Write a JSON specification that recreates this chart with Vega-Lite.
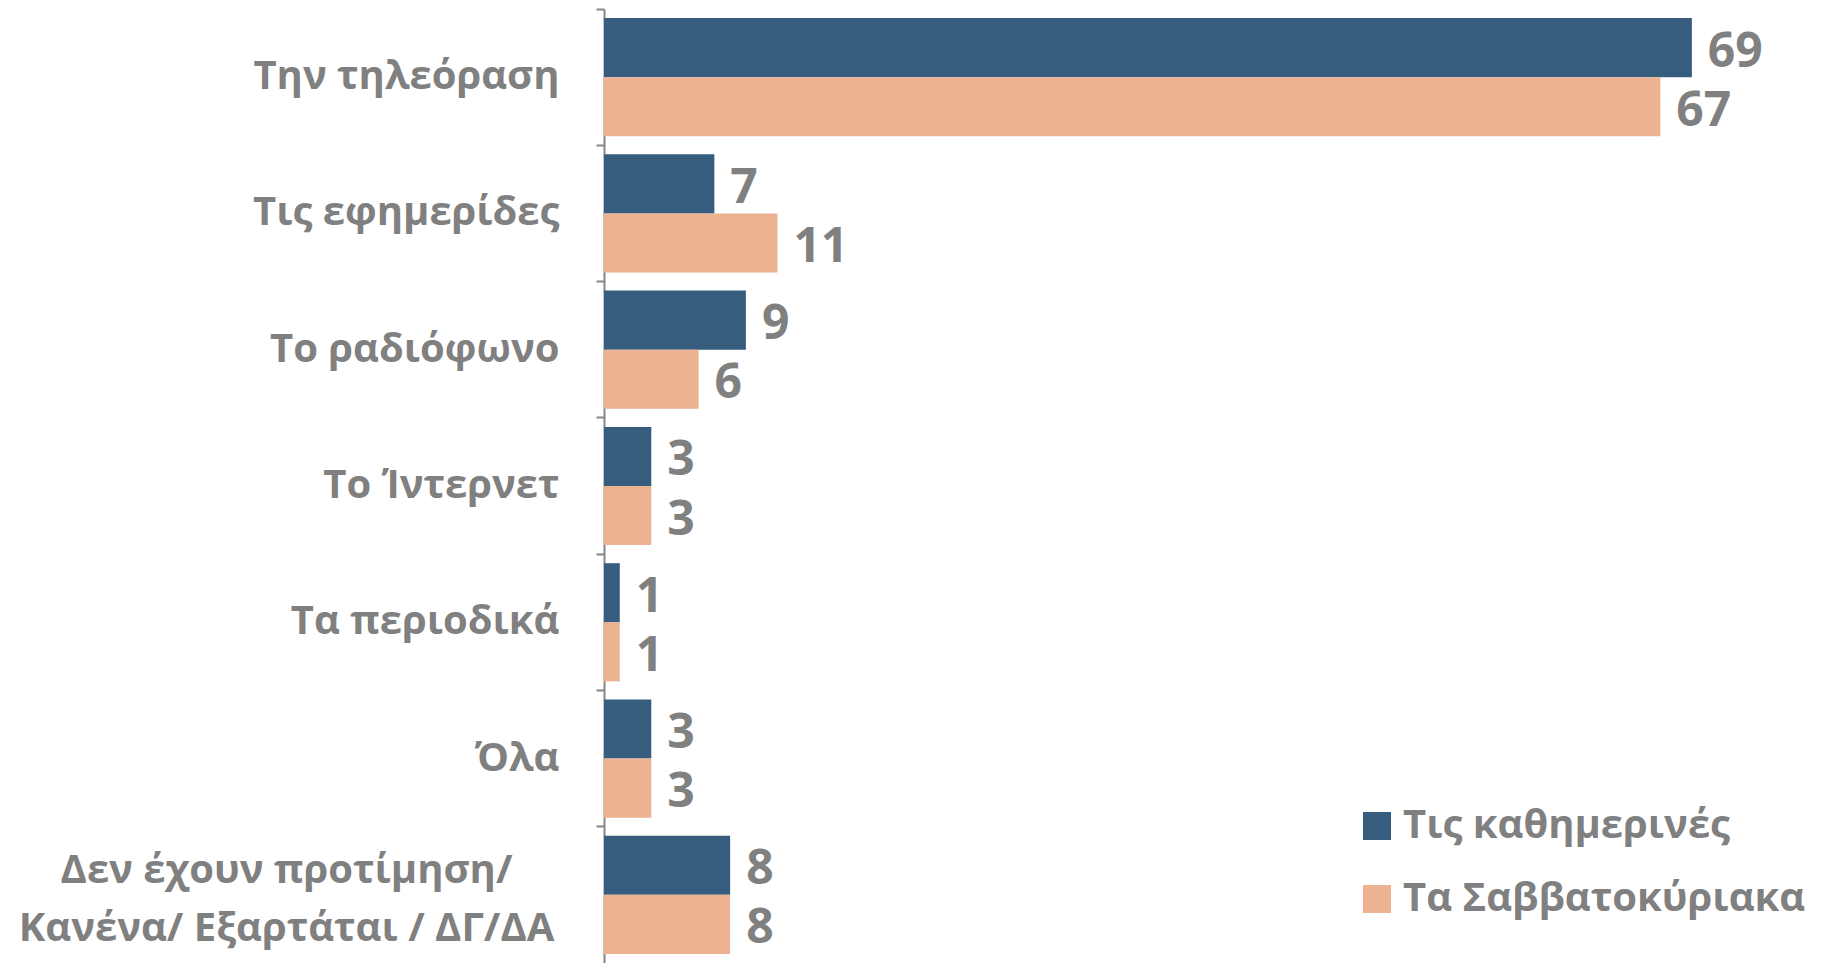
{
  "$schema": "https://vega.github.io/schema/vega-lite/v6.json",
  "width": 1214,
  "height": 954,
  "autosize": {"type": "none"},
  "padding": {"left": 604, "top": 9, "right": 7, "bottom": 0},
  "background": "white",
  "config": {"view": {"stroke": null}, "font": "Open Sans"},
  "data": {
    "values": [
      {"category": "Την τηλεόραση", "series": "Τις καθημερινές", "value": 69},
      {"category": "Την τηλεόραση", "series": "Τα Σαββατοκύριακα", "value": 67},
      {"category": "Τις εφημερίδες", "series": "Τις καθημερινές", "value": 7},
      {"category": "Τις εφημερίδες", "series": "Τα Σαββατοκύριακα", "value": 11},
      {"category": "Το ραδιόφωνο", "series": "Τις καθημερινές", "value": 9},
      {"category": "Το ραδιόφωνο", "series": "Τα Σαββατοκύριακα", "value": 6},
      {"category": "Το Ίντερνετ", "series": "Τις καθημερινές", "value": 3},
      {"category": "Το Ίντερνετ", "series": "Τα Σαββατοκύριακα", "value": 3},
      {"category": "Τα περιοδικά", "series": "Τις καθημερινές", "value": 1},
      {"category": "Τα περιοδικά", "series": "Τα Σαββατοκύριακα", "value": 1},
      {"category": "Όλα", "series": "Τις καθημερινές", "value": 3},
      {"category": "Όλα", "series": "Τα Σαββατοκύριακα", "value": 3},
      {"category": "Δεν έχουν προτίμηση/ Κανένα/ Εξαρτάται / ΔΓ/ΔΑ", "series": "Τις καθημερινές", "value": 8},
      {"category": "Δεν έχουν προτίμηση/ Κανένα/ Εξαρτάται / ΔΓ/ΔΑ", "series": "Τα Σαββατοκύριακα", "value": 8}
    ]
  },
  "encoding": {
    "y": {
      "field": "category",
      "type": "nominal",
      "sort": null,
      "scale": {"paddingInner": 0, "paddingOuter": 0},
      "axis": {
        "title": null,
        "bandPosition": 0,
        "domainColor": "#868686",
        "domainWidth": 2,
        "tickColor": "#868686",
        "tickWidth": 2,
        "tickSize": 8,
        "labelFont": "Open Sans",
        "labelFontSize": 40,
        "labelFontWeight": "bold",
        "labelColor": "#808080",
        "labelLimit": 800,
        "labelLineHeight": 58,
        "labelPadding": {"condition": {"test": "indexof(datum.value, 'Δεν') == 0", "value": 310}, "value": 37},
        "labelAlign": {"condition": {"test": "indexof(datum.value, 'Δεν') == 0", "value": "center"}, "value": "right"},
        "labelOffset": {"condition": {"test": "indexof(datum.value, 'Δεν') == 0", "value": -24}, "value": 0},
        "labelExpr": "indexof(datum.value, 'Δεν') == 0 ? ['Δεν έχουν προτίμηση/', 'Κανένα/ Εξαρτάται / ΔΓ/ΔΑ'] : datum.label"
      }
    },
    "yOffset": {
      "field": "series",
      "type": "nominal",
      "sort": ["Τις καθημερινές", "Τα Σαββατοκύριακα"],
      "scale": {"paddingInner": 0, "paddingOuter": 0.153}
    },
    "x": {
      "field": "value",
      "type": "quantitative",
      "scale": {"domain": [0, 77], "nice": false},
      "axis": null
    }
  },
  "layer": [
    {
      "mark": {"type": "bar"},
      "encoding": {
        "color": {
          "field": "series",
          "type": "nominal",
          "scale": {"domain": ["Τις καθημερινές", "Τα Σαββατοκύριακα"], "range": ["#365d7e", "#ecb292"]},
          "legend": {
            "orient": "none",
            "legendX": 753,
            "legendY": 797,
            "title": null,
            "symbolType": "square",
            "symbolSize": 784,
            "symbolStrokeWidth": 0,
            "labelFont": "Open Sans",
            "labelFontSize": 40,
            "labelFontWeight": "bold",
            "labelColor": "#808080",
            "labelOffset": 6,
            "rowPadding": 33,
            "labelLimit": 600
          }
        }
      }
    },
    {
      "mark": {"type": "text", "align": "left", "baseline": "middle", "dx": 16, "dy": 5, "font": "Open Sans", "fontSize": 48, "fontWeight": "bold", "color": "#808080"},
      "encoding": {"text": {"field": "value", "type": "quantitative"}}
    }
  ]
}
